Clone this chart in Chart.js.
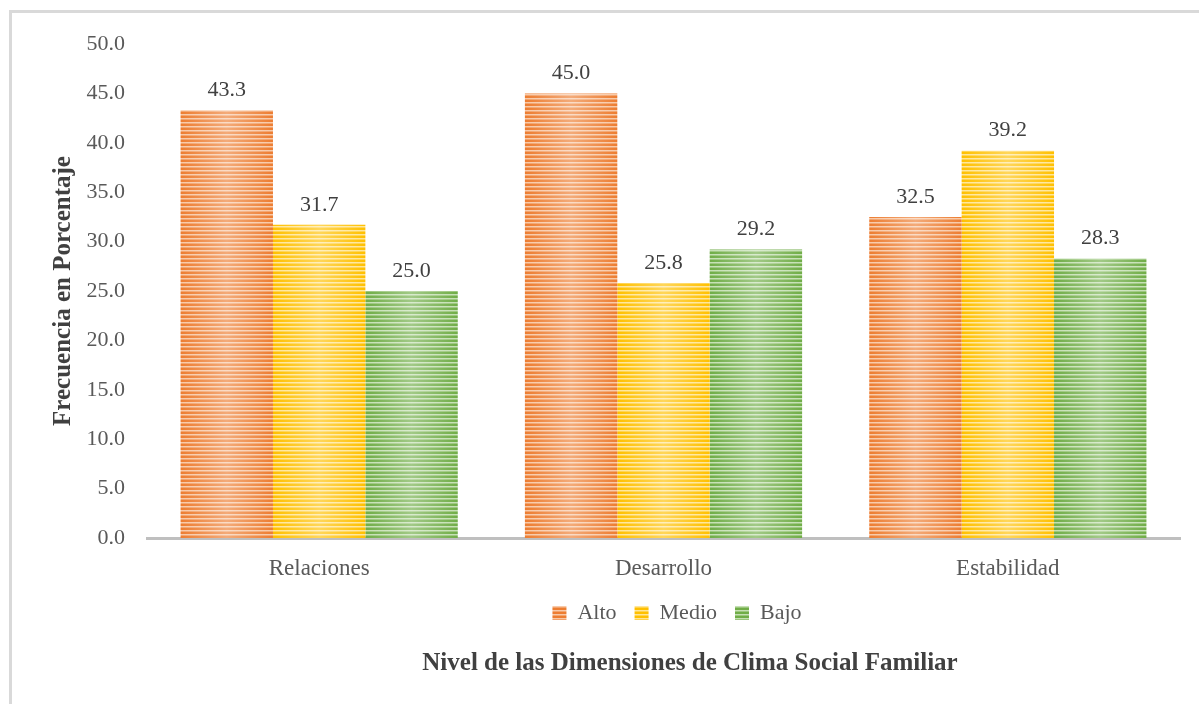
<!DOCTYPE html>
<html>
<head>
<meta charset="utf-8">
<script src="https://cdn.jsdelivr.net/npm/chart.js@4/dist/chart.umd.min.js"></script>
<style>
  html, body { margin: 0; padding: 0; background: #fff; }
  canvas { display: block; }
</style>
</head>
<body>
<canvas id="climaChart" width="1199" height="704"></canvas>
<script>
const categories = ['Relaciones', 'Desarrollo', 'Estabilidad'];
const seriesNames = ['Alto', 'Medio', 'Bajo'];
const alto = [43.3, 45.0, 32.5];
const medio = [31.7, 25.8, 39.2];
const bajo = [25.0, 29.2, 28.3];
const yMin = 0, yMax = 50, yStep = 5;

const baseColors = ['#ED7D31', '#FFC000', '#70AD47'];
const lightColors = ['#F8C9A8', '#FFE699', '#C5E0B4'];

function stripes(base, light) {
    const c = document.createElement('canvas');
    c.width = 4; c.height = 4;
    const g = c.getContext('2d');
    g.fillStyle = base;
    g.fillRect(0, 0, 4, 4);
    g.fillStyle = light;
    g.fillRect(0, 2, 4, 1);
    g.globalAlpha = 0.5;
    g.fillRect(0, 3, 4, 1);
    return g.createPattern(c, 'repeat');
}

const frame = {
    id: 'frame',
    beforeDraw(chart) {
        const ctx = chart.ctx;
        ctx.save();
        ctx.fillStyle = '#fff';
        ctx.fillRect(0, 0, chart.width, chart.height);
        ctx.fillStyle = '#d9d9d9';
        ctx.fillRect(9, 10, chart.width - 9, 3);
        ctx.fillRect(9, 10, 3, chart.height - 10);
        ctx.restore();
    }
};

// legend and axis caption sit a bit right of centre in the original
const nudge = {
    id: 'nudge',
    afterLayout(chart) {
        if (chart.legend) { chart.legend.left += 87; chart.legend.right += 87; }
        if (chart.titleBlock) { chart.titleBlock.left += 100; chart.titleBlock.right += 100; }
    }
};

const shine = {
    id: 'shine',
    afterDatasetDraw(chart, args) {
        const ctx = chart.ctx;
        ctx.save();
        args.meta.data.forEach(bar => {
            const w = bar.width;
            const x0 = bar.x - w / 2;
            const grad = ctx.createLinearGradient(x0, 0, x0 + w, 0);
            grad.addColorStop(0, 'rgba(255,255,255,0)');
            grad.addColorStop(0.5, 'rgba(255,255,255,0.35)');
            grad.addColorStop(1, 'rgba(255,255,255,0)');
            ctx.fillStyle = grad;
            ctx.fillRect(x0, bar.y, w, bar.base - bar.y);
        });
        ctx.restore();
    }
};

const valueLabels = {
    id: 'valueLabels',
    afterDatasetsDraw(chart) {
        const ctx = chart.ctx;
        ctx.save();
        ctx.font = '22px "Liberation Serif"';
        ctx.fillStyle = '#404040';
        ctx.textAlign = 'center';
        ctx.textBaseline = 'bottom';
        chart.data.datasets.forEach((ds, i) => {
            chart.getDatasetMeta(i).data.forEach((bar, j) => {
                ctx.fillText(ds.data[j].toFixed(1), bar.x, bar.y - 9);
            });
        });
        ctx.restore();
    }
};

const canvas = document.getElementById('climaChart');
// the original (Word) text is spaced a little wider than plain Times
canvas.getContext('2d').letterSpacing = '1px';

new Chart(canvas, {
    type: 'bar',
    data: {
        labels: categories,
        datasets: [alto, medio, bajo].map((vals, i) => ({
            label: seriesNames[i],
            data: vals,
            backgroundColor: stripes(baseColors[i], lightColors[i]),
            borderWidth: 0,
            categoryPercentage: 0.805,
            barPercentage: 1
        }))
    },
    options: {
        responsive: false,
        animation: false,
        layout: { padding: { top: 44, right: 19, bottom: 25, left: 0 } },
        plugins: {
            tooltip: { enabled: false },
            legend: {
                position: 'bottom',
                labels: {
                    boxWidth: 14,
                    boxHeight: 14,
                    padding: 18,
                    color: '#595959',
                    font: { family: 'Liberation Serif', size: 22 }
                }
            },
            title: {
                display: true,
                position: 'bottom',
                text: 'Nivel de las Dimensiones de Clima Social Familiar',
                color: '#404040',
                font: { family: 'Liberation Serif', size: 25, weight: 'bold' },
                padding: { top: 15, bottom: 0 }
            }
        },
        scales: {
            x: {
                afterFit(scale) { scale.height = 46; },
                grid: { display: false, drawTicks: false },
                border: { display: true, color: '#bfbfbf', width: 3 },
                ticks: {
                    color: '#595959',
                    padding: 17,
                    font: { family: 'Liberation Serif', size: 23 }
                }
            },
            y: {
                min: yMin,
                max: yMax,
                afterFit(scale) { scale.width = 147; },
                grid: { display: false, drawTicks: false },
                border: { display: false },
                ticks: {
                    stepSize: yStep,
                    padding: 22,
                    color: '#595959',
                    font: { family: 'Liberation Serif', size: 22 },
                    callback: v => v.toFixed(1)
                },
                title: {
                    display: true,
                    text: 'Frecuencia en Porcentaje',
                    color: '#404040',
                    font: { family: 'Liberation Serif', size: 25, weight: 'bold' },
                    padding: { top: 49, bottom: 0 }
                }
            }
        }
    },
    plugins: [frame, nudge, shine, valueLabels]
});
</script>
</body>
</html>
